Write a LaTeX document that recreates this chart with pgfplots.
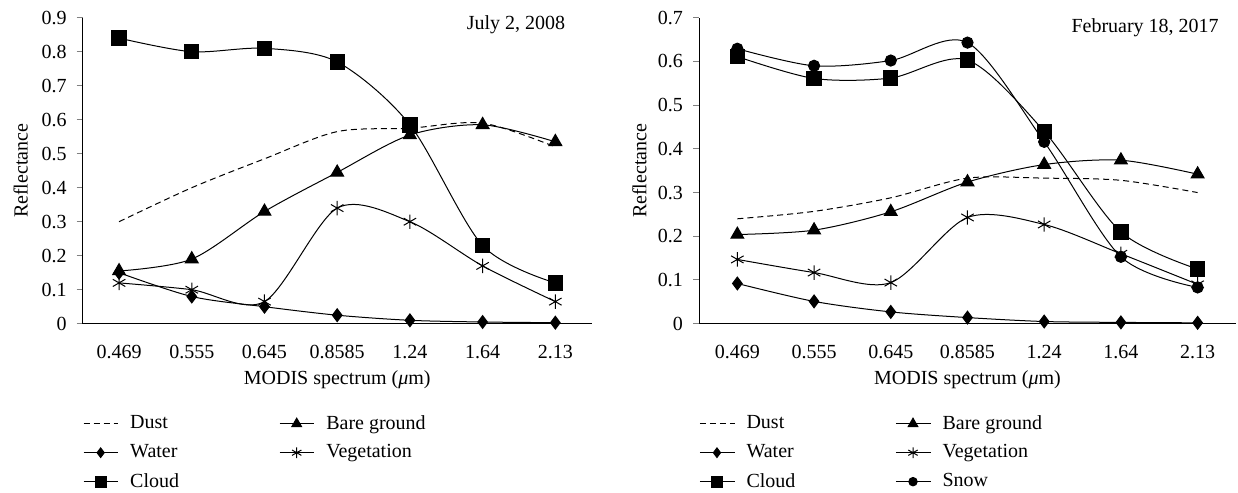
\documentclass[border=0pt]{standalone}
\usepackage{fontspec}
\setmainfont{Liberation Serif}
\usepackage{pgfplots}
\pgfplotsset{compat=1.18}

\pgfplotsset{
  refl/.style={
    scale only axis, height=153pt,
    axis x line=bottom, axis y line=left, axis line style={-, line width=0.5pt},
    xmin=-0.5, xmax=6.5, ymin=0,
    xtick={0,...,6},
    xticklabels={0.469,0.555,0.645,0.8585,1.24,1.64,2.13},
    minor xtick={-0.5,0.5,...,6.5},
    xtick style={draw=none},
    minor tick length=4.5pt,
    minor tick style={line width=0.5pt},
    ytick style={line width=0.5pt},
    major tick length=3pt,
    tick align=outside,
    xticklabel style={yshift=-4pt},
    yticklabel style={/pgf/number format/fixed, xshift=-1.5pt},
    /pgf/number format/assume math mode=true,
    tick label style={font=\fontsize{10}{12}\selectfont},
    label style={font=\fontsize{10}{12}\selectfont},
    xlabel={MODIS spectrum (\textit{μ}m)},
    ylabel={Reflectance},
    xlabel style={at={(axis description cs:0.5,-0.183)}, anchor=center},
    legend columns=2,
    legend image code/.code={\draw[mark repeat=2,mark phase=2,every mark/.append style={scale=0.75}]
      plot coordinates {(0cm,0cm) (0.3cm,0cm) (0.6cm,0cm)};},
    legend style={draw=none, inner sep=0pt, anchor=north west,
      font=\fontsize{10}{12}\selectfont, row sep=2.2pt,
      cells={anchor=west},
      /tikz/column 1/.style={column sep=4pt},
      /tikz/column 2/.style={column sep=48pt},
      /tikz/column 3/.style={column sep=4pt}},
    every axis plot/.append style={black, line width=0.5pt, smooth, tension=0.5},
  },
  dust/.style={dash pattern=on 3pt off 2pt, no markers},
  water/.style={mark=diamond*, mark size=3.2pt, mark options={solid}},
  cloud/.style={mark=square*, mark size=3.6pt, mark options={solid}},
  bare/.style={mark=triangle*, mark size=3.7pt, mark options={solid}},
  veg/.style={mark=asterisk, mark size=3.6pt, mark options={solid, line width=0.5pt}},
  snow/.style={mark=*, mark size=2.8pt, mark options={solid}},
}

\begin{document}
\begin{tikzpicture}
\useasboundingbox (-41.35pt,-84.65pt) rectangle (577.65pt,161.85pt);
\begin{axis}[refl, width=254.5pt, ymax=0.9, ytick={0,0.1,...,0.9},
  clip mode=individual,
  ylabel style={at={(axis description cs:-0.122,0.5)}, anchor=center},
  legend style={at={(axis description cs:0.0,-0.285)}}]
\addplot[dust] coordinates {(0,0.30) (1,0.40) (2,0.485) (3,0.565) (4,0.575) (5,0.59) (6,0.52)};
\addlegendentry{Dust}
\addplot[bare] coordinates {(0,0.155) (1,0.19) (2,0.33) (3,0.445) (4,0.555) (5,0.585) (6,0.535)};
\addlegendentry{Bare ground}
\addplot[water] coordinates {(0,0.15) (1,0.08) (2,0.05) (3,0.025) (4,0.01) (5,0.005) (6,0.003)};
\addlegendentry{Water}
\addplot[veg] coordinates {(0,0.12) (1,0.10) (2,0.065) (3,0.34) (4,0.30) (5,0.17) (6,0.065)};
\addlegendentry{Vegetation}
\addplot[cloud] coordinates {(0,0.84) (1,0.80) (2,0.81) (3,0.77) (4,0.585) (5,0.23) (6,0.12)};
\addlegendentry{Cloud}
\node[anchor=east, inner sep=0pt, font=\fontsize{10}{12}\selectfont] at (axis cs:6.14,0.879) {July 2, 2008};
\end{axis}

\begin{axis}[refl, at={(308.15pt,0)}, width=268.5pt, ymax=0.7, ytick={0,0.1,...,0.7},
  clip mode=individual,
  ylabel style={at={(axis description cs:-0.111,0.5)}, anchor=center},
  legend style={at={(axis description cs:0.0,-0.285)}}]
\addplot[dust] coordinates {(0,0.24) (1,0.257) (2,0.288) (3,0.333) (4,0.333) (5,0.328) (6,0.30)};
\addlegendentry{Dust}
\addplot[bare] coordinates {(0,0.204) (1,0.214) (2,0.256) (3,0.324) (4,0.364) (5,0.374) (6,0.342)};
\addlegendentry{Bare ground}
\addplot[water] coordinates {(0,0.092) (1,0.051) (2,0.027) (3,0.014) (4,0.005) (5,0.003) (6,0.002)};
\addlegendentry{Water}
\addplot[veg] coordinates {(0,0.147) (1,0.117) (2,0.094) (3,0.243) (4,0.227) (5,0.16) (6,0.09)};
\addlegendentry{Vegetation}
\addplot[cloud] coordinates {(0,0.611) (1,0.561) (2,0.562) (3,0.603) (4,0.44) (5,0.21) (6,0.125)};
\addlegendentry{Cloud}
\addplot[snow] coordinates {(0,0.629) (1,0.590) (2,0.602) (3,0.643) (4,0.416) (5,0.153) (6,0.083)};
\addlegendentry{Snow}
\node[anchor=east, inner sep=0pt, font=\fontsize{10}{12}\selectfont] at (axis cs:6.28,0.676) {February 18, 2017};
\end{axis}
\end{tikzpicture}
\end{document}
